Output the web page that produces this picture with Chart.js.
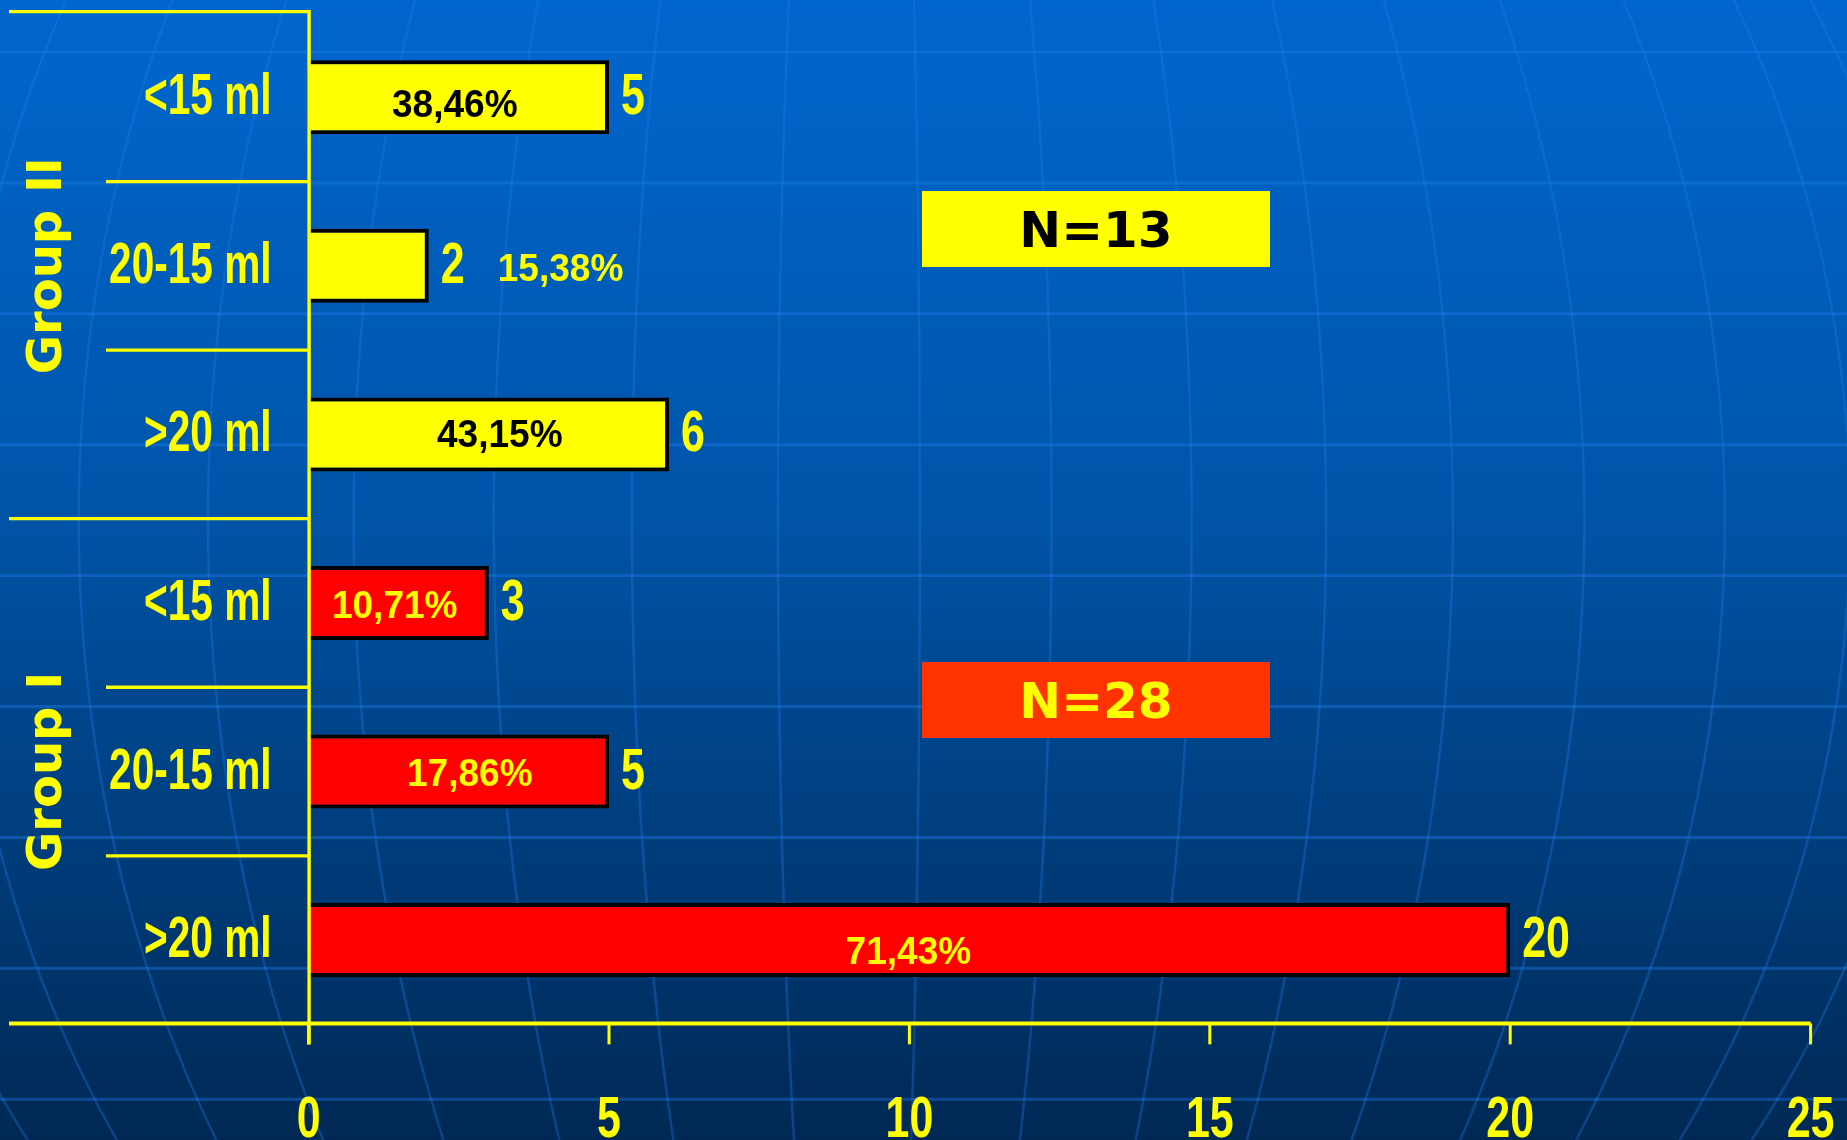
<!DOCTYPE html>
<html>
<head>
<meta charset="utf-8">
<title>Group I / Group II volumes</title>
<script src="https://cdn.jsdelivr.net/npm/chart.js@4.4.1/dist/chart.umd.min.js"></script>
<style>
  html, body { margin: 0; padding: 0; background: #00417f; overflow: hidden; }
  canvas { display: block; }
</style>
</head>
<body>
<canvas id="chart" width="1847" height="1140"></canvas>
<script>
// ---- data ----
const categories = ['<15 ml', '20-15 ml', '>20 ml', '<15 ml', '20-15 ml', '>20 ml'];
const groupNames = ['Group II', 'Group I'];
const groupOfCategory = [0, 0, 0, 1, 1, 1];
const patientCounts = [5, 2, 6, 3, 5, 20];
const shareLabels = ['38,46%', '15,38%', '43,15%', '10,71%', '17,86%', '71,43%'];
const groupTotals = ['N=13', 'N=28'];
const xTickValues = [0, 5, 10, 15, 20, 25];

// ---- styles ----
const YELLOW = '#FFFF00';
const groupFill = ['#FFFF00', '#FF0000'];
const shareTextColor = ['#000000', '#FFFF00'];
const shareInside = [true, false, true, true, true, true];
const shareNudge = [[-4, 6], [0, 1], [11, -1], [-4, 1], [11, 0], [-1, 10]];
const totalBoxFill = ['#FFFF00', '#FF3300'];
const totalBoxText = ['#000000', '#FFFF00'];
const totalBoxRect = [[922, 191, 348, 76], [922, 662, 348, 76]];
const NARROW = "bold 58px 'Liberation Sans', Arial, sans-serif";
const SHARE_FONT = "bold 39px 'Liberation Sans', Arial, sans-serif";
const WIDE = "bold 48px 'DejaVu Sans', Verdana, sans-serif";
const GLOBE = { cx: 870, cy: 520, r: 1100 };
const meridianLongitudes = [-68, -56, -46, -37, -28, -20, -12.5, -4.8, 2.6, 9.5, 17, 24.5, 32, 40.5, 51, 63, 76];

function drawText(ctx, text, x, y, font, color, align, sx) {
  ctx.save();
  ctx.font = font;
  ctx.fillStyle = color;
  ctx.textAlign = align;
  ctx.textBaseline = 'alphabetic';
  ctx.translate(x, y);
  ctx.scale(sx, 1);
  ctx.fillText(text, 0, 0);
  ctx.restore();
}

function line(ctx, x1, y1, x2, y2, w) {
  ctx.beginPath();
  ctx.lineWidth = w;
  ctx.moveTo(x1, y1);
  ctx.lineTo(x2, y2);
  ctx.stroke();
}

// slide background: gradient with a faint globe grid
const backdrop = {
  id: 'backdrop',
  beforeDraw(chart) {
    const { ctx, width, height } = chart;
    ctx.save();
    const g = ctx.createLinearGradient(0, 0, 0, height);
    g.addColorStop(0, 'rgb(0,103,206)');
    g.addColorStop(0.45, 'rgb(0,84,168)');
    g.addColorStop(0.75, 'rgb(0,60,122)');
    g.addColorStop(1, 'rgb(0,40,84)');
    ctx.fillStyle = g;
    ctx.fillRect(0, 0, width, height);
    ctx.strokeStyle = 'rgba(30,125,235,0.33)';
    for (const lon of meridianLongitudes) {
      const s = Math.sin(lon * Math.PI / 180);
      ctx.beginPath();
      ctx.lineWidth = 2.5;
      for (let yy = 0; yy <= height; yy += 10) {
        const t = (yy - GLOBE.cy) / GLOBE.r;
        const xx = GLOBE.cx + GLOBE.r * s * Math.sqrt(Math.max(0, 1 - t * t));
        if (yy === 0) ctx.moveTo(xx, yy); else ctx.lineTo(xx, yy);
      }
      ctx.stroke();
    }
    ctx.strokeStyle = 'rgba(30,125,235,0.4)';
    for (let yy = 52; yy < height; yy += 130.9) line(ctx, 0, yy, width, yy, 3);
    ctx.restore();
  }
};

// axes, category/group labels, value labels and totals
const annotations = {
  id: 'annotations',
  afterDatasetsDraw(chart) {
    const { ctx } = chart;
    const xs = chart.scales.x, ys = chart.scales.y;
    const bars = chart.getDatasetMeta(0).data;
    const x0 = xs.getPixelForValue(0);
    const xEnd = xs.getPixelForValue(xTickValues[xTickValues.length - 1]);
    const step = ys.getPixelForValue(1) - ys.getPixelForValue(0);
    const top = ys.getPixelForValue(0) - step / 2;
    const n = categories.length;
    const axisY = top + n * step - 1;

    ctx.save();
    ctx.strokeStyle = YELLOW;
    // category boundaries (long ones between groups)
    for (let i = 0; i < n; i++) {
      const yy = i === 0 ? top - 1.3 : top + i * step;
      const groupEdge = i === 0 || groupOfCategory[i] !== groupOfCategory[i - 1];
      line(ctx, groupEdge ? 9 : 106, yy, x0 + 1.5, yy, 3.3);
    }
    // value axis
    line(ctx, 9, axisY, xEnd, axisY, 4);
    line(ctx, x0 + 0.5, top - 3, x0 + 0.5, axisY + 21, 3.4);
    xTickValues.forEach(v => {
      const px = xs.getPixelForValue(v);
      line(ctx, px, axisY, px, axisY + 21, 3);
      drawText(ctx, String(v), px, 1137, NARROW, YELLOW, 'center', 0.74);
    });
    ctx.restore();

    // group titles, rotated
    groupNames.forEach((name, gi) => {
      const idx = groupOfCategory.map((g, i) => g === gi ? i : -1).filter(i => i >= 0);
      const yc = top + (idx[0] + idx[idx.length - 1] + 1) / 2 * step;
      ctx.save();
      ctx.translate(61, yc);
      ctx.rotate(-Math.PI / 2);
      ctx.font = WIDE;
      ctx.fillStyle = YELLOW;
      ctx.textAlign = 'center';
      ctx.textBaseline = 'alphabetic';
      ctx.fillText(name, 0, 0);
      ctx.restore();
    });

    categories.forEach((label, i) => {
      const yc = ys.getPixelForValue(i);
      const g = groupOfCategory[i];
      const barEnd = bars[i].x;
      drawText(ctx, label, x0 - 37, yc + 17, NARROW, YELLOW, 'right', 0.70);
      drawText(ctx, String(patientCounts[i]), barEnd + 12, yc + 17, NARROW, YELLOW, 'left', 0.74);
      const [dx, dy] = shareNudge[i];
      if (shareInside[i]) {
        drawText(ctx, shareLabels[i], (x0 + barEnd) / 2 + dx, yc + dy + 14, SHARE_FONT, shareTextColor[g], 'center', 0.95);
      } else {
        drawText(ctx, shareLabels[i], barEnd + 69 + dx, yc + dy + 14, SHARE_FONT, YELLOW, 'left', 0.95);
      }
    });

    // group totals
    groupTotals.forEach((t, gi) => {
      const [bx, by, bw, bh] = totalBoxRect[gi];
      ctx.save();
      ctx.fillStyle = totalBoxFill[gi];
      ctx.fillRect(bx, by, bw, bh);
      ctx.restore();
      drawText(ctx, t, bx + bw / 2, by + bh / 2 + 18, "bold 50px 'DejaVu Sans', Verdana, sans-serif", totalBoxText[gi], 'center', 1);
    });
  }
};

new Chart(document.getElementById('chart'), {
  type: 'bar',
  data: {
    labels: categories,
    datasets: [{
      data: patientCounts,
      backgroundColor: categories.map((_, i) => groupFill[groupOfCategory[i]]),
      borderColor: '#000000',
      borderWidth: 4,
      borderSkipped: 'start',
      categoryPercentage: 1,
      barPercentage: 0.439
    }]
  },
  options: {
    indexAxis: 'y',
    responsive: false,
    animation: false,
    devicePixelRatio: 1,
    layout: { padding: { left: 308.6, right: 36.4, top: 13, bottom: 115.6 } },
    plugins: { legend: { display: false }, tooltip: { enabled: false }, title: { display: false } },
    scales: {
      x: { type: 'linear', min: 0, max: 25, display: false, ticks: { stepSize: 5 } },
      y: { type: 'category', display: false, offset: true }
    }
  },
  plugins: [backdrop, annotations]
});
</script>
</body>
</html>
